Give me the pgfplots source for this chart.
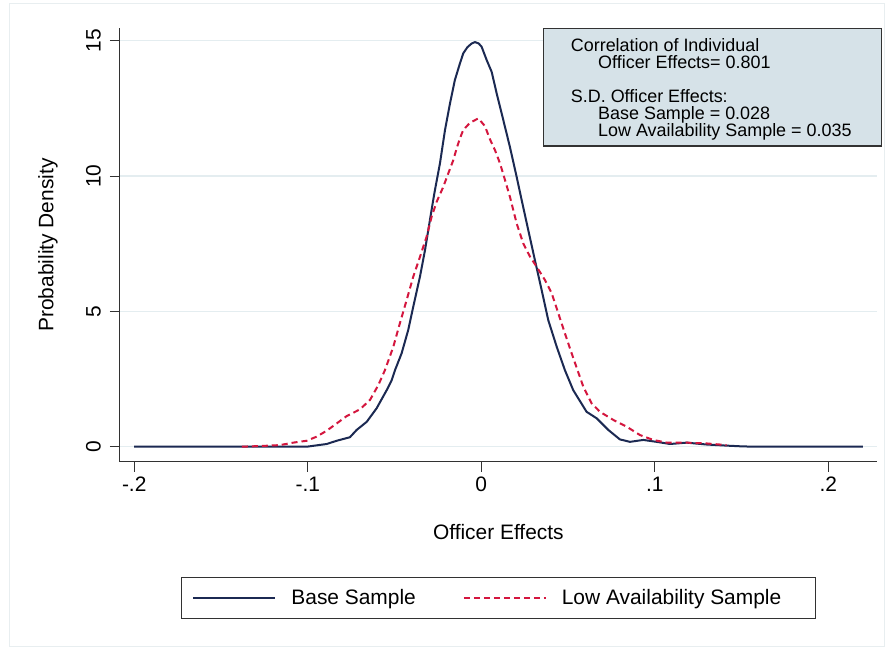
\documentclass[border=0pt]{standalone}
\usepackage{fontspec}
\setmainfont{Liberation Sans}
\usepackage{pgfplots}
\pgfplotsset{compat=1.18}
\definecolor{navy}{RGB}{27,41,82}
\definecolor{crim}{RGB}{212,22,62}
\definecolor{gridc}{RGB}{228,237,240}
\definecolor{boxfill}{RGB}{214,226,232}
\definecolor{axc}{RGB}{50,50,50}
\definecolor{framec}{RGB}{232,238,240}
\newcommand{\mfont}{\fontsize{21}{21}\selectfont}
\newcommand{\bfontb}{\fontsize{18}{18}\selectfont}
\begin{document}
\begin{tikzpicture}
\useasboundingbox (-120bp,-188.3bp) rectangle (768bp,461.7bp);
\fill[white] (-120bp,-188.3bp) rectangle (768bp,461.7bp);
\draw[framec, line width=1bp] (-110bp,457.7bp) rectangle (764bp,-184.3bp);
\begin{axis}[
  at={(0,0)}, anchor=south west,
  scale only axis, width=756.7bp, height=433.4bp,
  xmin=-0.2082, xmax=0.2279, ymin=-0.554, ymax=15.46,
  axis x line=bottom, axis y line=left,
  axis line style={-, axc, line width=1bp},
  tick align=outside, major tick length=10bp,
  tick style={axc, line width=1bp},
  xtick={-0.2,-0.1,0,0.1,0.2},
  xticklabels={-.2,-.1,0,.1,.2},
  ytick={0,5,10,15},
  yticklabels={0,5,10,15},
  ticklabel style={font=\mfont, inner sep=0pt},
  xticklabel style={anchor=north},
  yticklabel style={rotate=90, anchor=south},
  xticklabel shift=5bp,
  yticklabel shift=9bp,
  ymajorgrids, xmajorgrids=false,
  major grid style={gridc, line width=1.3bp},
  xlabel={Officer Effects},
  ylabel={Probability Density},
  xlabel style={at={(axis description cs:0.5,0)}, anchor=center, yshift=-70.3bp, font=\mfont},
  ylabel style={at={(axis description cs:0,0.5)}, anchor=center, yshift=72bp, font=\mfont},
  legend columns=2,
  legend style={at={(0.5,-0.266)}, anchor=north, draw=axc, line width=1bp,
    inner xsep=11bp, inner ysep=12bp, font=\mfont,
    nodes={inner sep=0pt, text depth=0.15em},
    /tikz/every odd column/.append style={column sep=15bp},
    /tikz/column 2/.style={column sep=47bp}},
  legend image code/.code={\draw[#1] (0bp,0bp) -- (82bp,0bp);},
]
\addplot[navy, line width=2bp, line join=round] coordinates {
(-0.200,0) (-0.150,0) (-0.120,0) (-0.1006,0) (-0.0891,0.10) (-0.0833,0.22)
(-0.0757,0.35) (-0.0718,0.62) (-0.0660,0.92) (-0.0603,1.42) (-0.0545,2.09)
(-0.0516,2.46) (-0.0497,2.83) (-0.0459,3.45) (-0.0421,4.31) (-0.0392,5.17)
(-0.0353,6.29) (-0.0324,7.27) (-0.0296,8.37) (-0.0277,9.11) (-0.0267,9.48)
(-0.0238,10.47) (-0.0209,11.70) (-0.0180,12.69) (-0.0152,13.55) (-0.0123,14.16)
(-0.0104,14.53) (-0.0080,14.76) (-0.0055,14.90) (-0.0036,14.95) (-0.0015,14.90) (0.0002,14.78) (0.0031,14.29)
(0.0060,13.85) (0.0089,13.05) (0.0127,12.07) (0.0165,11.08) (0.0204,9.97)
(0.0233,9.11) (0.0271,8.00) (0.0309,6.90) (0.0348,5.79) (0.0386,4.68)
(0.0435,3.69) (0.0482,2.83) (0.0530,2.09) (0.0607,1.29) (0.0665,1.05)
(0.0732,0.62) (0.0799,0.27) (0.0857,0.18) (0.0934,0.25) (0.1010,0.18)
(0.1088,0.10) (0.1184,0.15) (0.1300,0.08) (0.1414,0.04) (0.1510,0.01)
(0.1600,0) (0.2200,0)
};
\addlegendentry{Base Sample}
\addplot[crim, line width=2bp, dash pattern=on 6bp off 4bp, line join=round] coordinates {
(-0.1380,0) (-0.1256,0.03) (-0.1160,0.06) (-0.1084,0.15) (-0.1006,0.22)
(-0.0949,0.37) (-0.0891,0.59) (-0.0833,0.86) (-0.0776,1.13) (-0.0699,1.38)
(-0.0641,1.73) (-0.0593,2.28) (-0.0555,2.83) (-0.0507,3.69) (-0.0469,4.56)
(-0.0430,5.42) (-0.0392,6.28) (-0.0353,7.02) (-0.0315,7.76) (-0.0286,8.50)
(-0.0257,9.05) (-0.0219,9.60) (-0.0190,10.10) (-0.0161,10.59) (-0.0142,11.02)
(-0.0123,11.39) (-0.0104,11.70) (-0.0065,11.97) (-0.0017,12.13) (0.0021,11.85)
(0.0050,11.36) (0.0079,10.96) (0.0108,10.47) (0.0137,9.85) (0.0165,9.24)
(0.0204,8.25) (0.0242,7.51) (0.0281,7.02) (0.0319,6.65) (0.0367,6.16)
(0.0406,5.67) (0.0444,4.93) (0.0482,4.19) (0.0521,3.45) (0.0559,2.75)
(0.0588,2.22) (0.0636,1.60) (0.0684,1.29) (0.0761,0.99) (0.0838,0.74)
(0.0915,0.43) (0.0991,0.25) (0.1069,0.15) (0.1184,0.15) (0.1300,0.12)
(0.1414,0.06)
};
\addlegendentry{Low Availability Sample\hspace*{23bp}}
\end{axis}
\draw[axc, fill=boxfill, line width=1.3bp] (423.3bp,433.4bp) rectangle (761.7bp,315.7bp);
\node[anchor=base west, inner sep=0pt, font=\bfontb] at (450.7bp,410.3bp) {Correlation of Individual};
\node[anchor=base west, inner sep=0pt, font=\bfontb] at (478bp,393.4bp) {Officer Effects= 0.801};
\node[anchor=base west, inner sep=0pt, font=\bfontb] at (450.7bp,359.4bp) {S.D. Officer Effects:};
\node[anchor=base west, inner sep=0pt, font=\bfontb] at (478bp,342.3bp) {Base Sample = 0.028};
\node[anchor=base west, inner sep=0pt, font=\bfontb] at (478bp,325.4bp) {Low Availability Sample = 0.035};
\end{tikzpicture}
\end{document}
